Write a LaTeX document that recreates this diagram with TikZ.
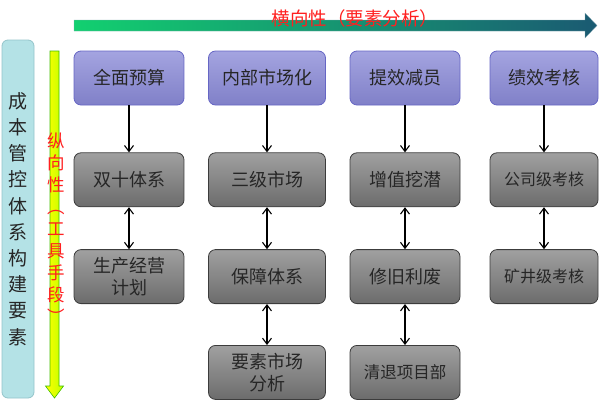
\documentclass[tikz,border=0pt]{standalone}
\usepackage{fontspec}
\setmainfont{Noto Sans CJK SC}
\usetikzlibrary{positioning, arrows.meta}
\definecolor{topfill}{HTML}{A4A4E0}
\definecolor{topfillb}{HTML}{8080C8}
\definecolor{topline}{HTML}{6666C4}
\definecolor{subfill}{HTML}{A0A0A0}
\definecolor{subfillb}{HTML}{6C6C6C}
\definecolor{subline}{HTML}{3C3C3C}
\definecolor{sidefill}{HTML}{B4E2E6}
\definecolor{sideline}{HTML}{94C4CA}
\definecolor{barleft}{HTML}{12D070}
\definecolor{barright}{HTML}{1A5A72}
\definecolor{redtext}{HTML}{FF2020}
\tikzset{
>={Straight Barb[length=6pt,width=9pt]}, % arrow heads like the reference
node distance=42pt, % gap between two rows of boxes
topbox/.style={draw=topline, top color=topfill, bottom color=topfillb, rounded corners=7pt, minimum width=110pt, minimum height=54pt, line width=0.8pt, font=\fontsize{18}{22}\selectfont, text=black!85}, % the blue heads of the columns
subbox/.style={draw=subline, top color=subfill, bottom color=subfillb, rounded corners=7pt, minimum width=110pt, minimum height=54pt, line width=0.8pt, align=center, font=\fontsize{18}{22}\selectfont, text=black!85}, % the gray boxes below
link/.style={line width=1.1pt, black}, % connectors between boxes
}

\begin{document}
\begin{tikzpicture}[x=1pt,y=-1pt]
        \useasboundingbox (0,0) rectangle (600,400);

        % the two direction arrows
        \shade[left color=barleft, right color=barright, draw=barright!50, line width=0.3pt] (74,20) -- (585,20) -- (585,13) -- (597,25.5) -- (585,38) -- (585,31) -- (74,31) -- cycle;
        \node[text=redtext, font=\fontsize{18.5}{22}\selectfont] (hx) at (355,18) {横向性（要素分析）};
        \shade[left color=yellow, right color=yellow!75!green, draw=green!50!olive, line width=0.6pt] (50,51) -- (59,51) -- (59,386) -- (63.5,386) -- (54.5,398) -- (45.5,386) -- (50,386) -- cycle;

        % the side label
        \node[draw=sideline, fill=sidefill, rounded corners=6pt, line width=0.8pt, minimum width=32pt, minimum height=358pt] (side) at (18,219) {};
        \node[align=center, font=\fontsize{19}{26.2}\selectfont, text=black!85] (sidetext) at (side.center) {成\\本\\管\\控\\体\\系\\构\\建\\要\\素};
        \node[align=center, font=\fontsize{17.5}{22}\selectfont, text=redtext] (zx) at (56.5,228) {纵\\向\\性\\︵\\工\\具\\手\\段\\︶};

        % the heads of the columns
        \node[topbox] (qm) at (129,78) {全面预算};
        \node[topbox, minimum width=117pt] (nb) at (267,78) {内部市场化};
        \node[topbox] (tx) at (405,78) {提效减员};
        \node[topbox, minimum width=108pt] (jx) at (544,78) {绩效考核};

        % first column
        \node[subbox, below=47pt of qm] (sx) {双十体系};
        \node[subbox, below=of sx] (sc) {生产经营\\计划};

        % second column
        \node[subbox, below=47pt of nb, minimum width=117pt] (sj) {三级市场};
        \node[subbox, below=of sj, minimum width=117pt] (bz) {保障体系};
        \node[subbox, below=41pt of bz, minimum width=117pt] (ys) {要素市场\\分析};

        % third column
        \node[subbox, below=47pt of tx] (zz) {增值挖潜};
        \node[subbox, below=of zz] (xj) {修旧利废};
        \node[subbox, below=41pt of xj, font=\fontsize{16.5}{20}\selectfont] (qt) {清退项目部};

        % fourth column
        \node[subbox, below=47pt of jx, minimum width=108pt, font=\fontsize{16}{20}\selectfont] (gs) {公司级考核};
        \node[subbox, below=of gs, minimum width=108pt, font=\fontsize{16}{20}\selectfont] (kj) {矿井级考核};

        \draw[link, ->] (qm) -- (sx);
        \draw[link, <->] (sx) -- (sc);
        \draw[link, ->] (nb) -- (sj);
        \draw[link, <->] (sj) -- (bz);
        \draw[link, <->] (bz) -- (ys);
        \draw[link, ->] (tx) -- (zz);
        \draw[link, <->] (zz) -- (xj);
        \draw[link, <->] (xj) -- (qt);
        \draw[link, ->] (jx) -- (gs);
        \draw[link, <->] (gs) -- (kj);
\end{tikzpicture}
\end{document}
